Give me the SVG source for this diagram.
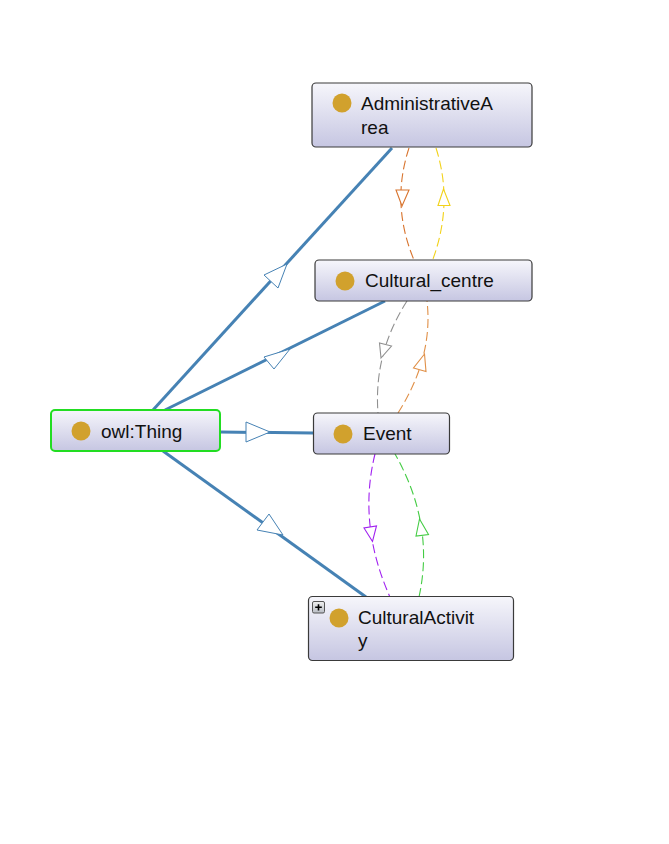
<svg xmlns="http://www.w3.org/2000/svg" width="669" height="844" viewBox="0 0 669 844">
<defs>
<linearGradient id="nodeGrad" x1="0" y1="0" x2="0" y2="1">
<stop offset="0" stop-color="#f6f6fb"/>
<stop offset="1" stop-color="#c6c6e2"/>
</linearGradient>
<linearGradient id="plusGrad" x1="0" y1="0" x2="0" y2="1">
<stop offset="0" stop-color="#f0f0f0"/>
<stop offset="1" stop-color="#b8bcc4"/>
</linearGradient>
<style>
.node{fill:url(#nodeGrad);stroke:#3a3a3a;stroke-width:1.2}
.root{fill:url(#nodeGrad);stroke:#22dd22;stroke-width:2}
.icon{fill:#d1a12d}
.label{font-family:"Liberation Sans",Arial,sans-serif;font-size:19px;fill:#111}
.isa{fill:none;stroke:#4682b4;stroke-width:3}
.isahead{fill:#fff;stroke:#4682b4;stroke-width:1}
.dash{fill:none;stroke-width:1.1;stroke-dasharray:9 4}
.head{fill:#fff;stroke-width:1.1}
</style>
</defs>
<rect width="669" height="844" fill="#fff"/>
<g id="connectors">
<line class="isa" x1="153" y1="410" x2="392" y2="148"/>
<polygon class="isahead" points="287,264 264,275 278,288"/>
<line class="isa" x1="165" y1="410" x2="385" y2="301"/>
<polygon class="isahead" points="290,349 264,357 274,369"/>
<line class="isa" x1="220" y1="432" x2="313" y2="433"/>
<polygon class="isahead" points="270,432 246,422 246,442"/>
<line class="isa" x1="163" y1="451" x2="366" y2="597"/>
<polygon class="isahead" points="283,535 269,514 257,530"/>
<path class="dash" stroke="#d8742e" d="M409,148 Q390.5,204 414,260"/>
<polygon class="head" stroke="#d8742e" points="402,206 396,190 409,190"/>
<path class="dash" stroke="#f2d21a" d="M436,148 Q453.5,202.5 433,259"/>
<polygon class="head" stroke="#f2d21a" points="443.5,189 438,205.5 450,205.5"/>
<path class="dash" stroke="#909090" d="M407,301 Q373.5,353 378,413"/>
<polygon class="head" stroke="#909090" points="381,358 379.5,343 391.5,346"/>
<path class="dash" stroke="#e09048" d="M398,413 Q433.5,357 427,301"/>
<polygon class="head" stroke="#e09048" points="424.5,354 413.5,368 426,371.5"/>
<path class="dash" stroke="#a020f0" d="M375,454 Q357.5,524.5 390,597"/>
<polygon class="head" stroke="#a020f0" points="372.5,541.5 364,528 376.5,526"/>
<path class="dash" stroke="#44cc44" d="M419,597 Q435,524.5 395,454"/>
<polygon class="head" stroke="#44cc44" points="419.5,519 416,536 428.5,534.5"/>
</g>
<g id="AdministrativeArea">
<rect class="node" x="312" y="83" width="220" height="64" rx="4"/>
<circle class="icon" cx="342" cy="103" r="9.5"/>
<text class="label" x="361" y="110">AdministrativeA</text>
<text class="label" x="361" y="134">rea</text>
</g>
<g id="Cultural_centre">
<rect class="node" x="315" y="260" width="217" height="41" rx="4"/>
<circle class="icon" cx="345" cy="281" r="9.5"/>
<text class="label" x="365" y="287">Cultural_centre</text>
</g>
<g id="owlThing">
<rect class="root" x="51" y="410" width="169" height="41" rx="4"/>
<circle class="icon" cx="81" cy="431" r="9.5"/>
<text class="label" x="101" y="438">owl:Thing</text>
</g>
<g id="Event">
<rect class="node" x="313.5" y="413" width="136" height="41" rx="4"/>
<circle class="icon" cx="343" cy="434" r="9.5"/>
<text class="label" x="363" y="440">Event</text>
</g>
<g id="CulturalActivity">
<rect class="node" x="308.5" y="596.5" width="205" height="64" rx="4"/>
<rect x="312.5" y="601.5" width="12" height="11.5" rx="1.5" fill="url(#plusGrad)" stroke="#555" stroke-width="1"/>
<path d="M315.2,607.3 H321.8 M318.5,604.2 V610.5" stroke="#000" stroke-width="1.6"/>
<circle class="icon" cx="339" cy="618" r="9.5"/>
<text class="label" x="358" y="624">CulturalActivit</text>
<text class="label" x="358" y="647">y</text>
</g>
</svg>
